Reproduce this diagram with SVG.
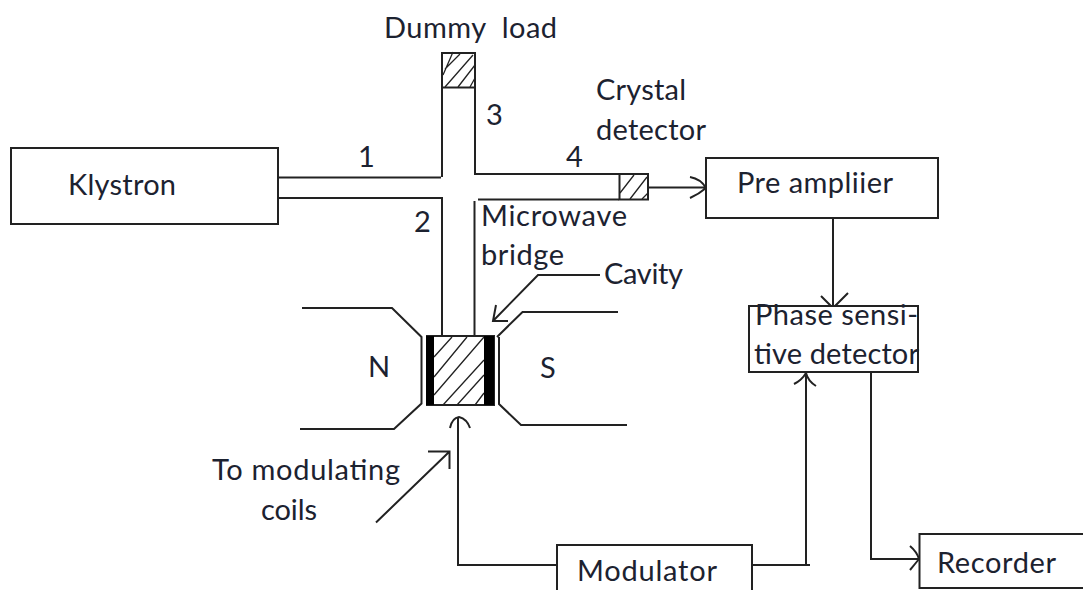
<svg xmlns="http://www.w3.org/2000/svg" width="1083" height="590" viewBox="0 0 1083 590">
<defs><style>
text{font-family:"Lato","Noto Sans","Liberation Sans",sans-serif;font-size:29px;fill:#1c2230;white-space:pre}
.l{fill:none;stroke:#222;stroke-width:2}
.t{fill:none;stroke:#222;stroke-width:1.3}
.b{fill:#fff;stroke:#222;stroke-width:2}
</style></defs>
<rect width="1083" height="590" fill="#fff"/>
<g id="connectors">
<path class="l" d="M278 177.500H441M278 198H442V335M442 88V177M475 88V174H619M478 199.500H619M474.500 201V335"/>
<path class="l" d="M648 187.500H706M690 177Q701 179 706 188Q699 194 690 198"/>
<path class="l" d="M833 218V306M821 296L833 308L848 293"/>
<path class="l" d="M806 565V374M794 384Q802 380 806 373Q808 381 816 386"/>
<path class="l" d="M752 565H810"/>
<path class="l" d="M871 373V559H919M910 546Q917 552 919 559Q915 564 910 570"/>
<path class="l" d="M557 565H458V417M450 428Q452 418 459 417Q467 419 470 428"/>
<path class="l" d="M600 275H538L493 321M496 305L493 321H508"/>
<path class="l" d="M376 522.500L449 452M428 451.500H449.500V469"/>
</g>
<g id="klystron"><rect class="b" x="11" y="148" width="267" height="76"/><text x="68" y="195" textLength="108">Klystron</text></g>
<g id="dummy-load"><rect class="b" x="442" y="53" width="33" height="34.500"/>
<path class="t" d="M443 75L453 52M445 69L460 54M445 87L473 55M458 87L475 65M470 87L475 78"/>
<text x="384" y="38" textLength="173">Dummy  load</text></g>
<g id="crystal-detector"><rect class="b" x="619.500" y="174" width="28.500" height="25.500"/>
<path class="t" d="M620 193L634 175M630 199L647 177M642 199L648 193"/>
<text x="596" y="100" textLength="90">Crystal</text><text x="596" y="140" textLength="110">detector</text></g>
<g id="bridge-labels">
<text x="358" y="167">1</text><text x="414" y="232">2</text><text x="486" y="125">3</text><text x="566" y="167">4</text>
<text x="481" y="226" textLength="146">Microwave</text><text x="481" y="265" textLength="83">bridge</text><text x="604" y="284" textLength="79">Cavity</text>
</g>
<g id="magnet-n"><path class="l" d="M302 308H392L421.500 337V403.500L394 429H300"/><text x="368" y="377" textLength="18">N</text></g>
<g id="magnet-s"><path class="l" d="M618 312H522.500L497 337M499 337V404L521 425H627"/><text x="540" y="378" textLength="15">S</text></g>
<g id="cavity"><rect class="b" x="427" y="336" width="67" height="69"/>
<path class="t" d="M434 357L452 337M434 377L467 337M434 395L484 337M443 405L484 360M457 405L484 375M475 405L484 393"/>
<rect x="426" y="336" width="8" height="69" fill="#000"/><rect x="484" y="336" width="10" height="69" fill="#000"/></g>
<g id="pre-amplifier"><rect class="b" x="706" y="158" width="232" height="60"/><text x="737" y="193" textLength="156">Pre ampliier</text></g>
<g id="phase-detector"><rect class="b" x="749" y="306" width="169" height="66"/><text x="755" y="325" textLength="163">Phase sensi-</text><text x="754" y="364" textLength="165">tive detector</text></g>
<g id="modulator"><rect class="b" x="557" y="545" width="195" height="60"/><text x="577" y="581" textLength="140">Modulator</text></g>
<g id="recorder"><rect class="b" x="919.500" y="534" width="175" height="54"/><text x="937" y="573" textLength="119">Recorder</text></g>
<g id="coils-label"><text x="212" y="480" textLength="188">To modulating</text><text x="261" y="520" textLength="56">coils</text></g>
</svg>
